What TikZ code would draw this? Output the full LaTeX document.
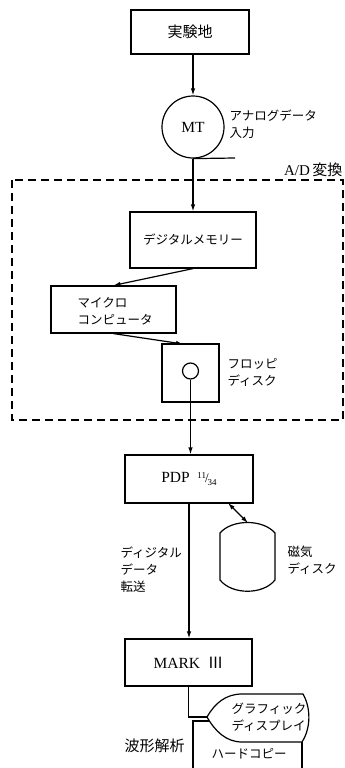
\documentclass[tikz,border=0pt]{standalone}
\usepackage{fontspec}
\setmainfont{Liberation Serif}
\newfontfamily\cjk{Noto Sans CJK JP}
\usetikzlibrary{arrows.meta}
\begin{document}
\begin{tikzpicture}[x=1pt,y=-1pt,line width=1.2pt,
  box/.style={draw,inner sep=0pt},
  arr/.style={-{Latex[length=7pt,width=4.5pt]}},
  dbl/.style={{Latex[length=7pt,width=4.5pt]}-{Latex[length=7pt,width=4.5pt]}},
  jp/.style={font=\cjk\fontsize{12.5}{17}\selectfont},
  jpbig/.style={font=\cjk\fontsize{15}{17}\selectfont},
  lat/.style={font=\fontsize{15.5}{17}\selectfont},
  lbl/.style={jp,align=left,inner sep=0pt}]
\useasboundingbox (0,0) rectangle (345,768);

% dashed A/D frame
\draw[dash pattern=on 8pt off 5pt] (12,180) rectangle (343,420);
\node[font=\fontsize{15}{16}\selectfont,anchor=east,inner sep=0pt] (ad) at (343,170) {A/D\,{\cjk 変換}};

% nodes
\node[box,minimum width=118pt,minimum height=44pt,jpbig] (exp) at (190,32) {実験地};
\node[draw,circle,minimum size=62pt,inner sep=0pt,lat] (mt) at (193,127) {MT};
\coordinate (tape) at (235,158);
\node[lbl,anchor=west] (analog) at (229,124) {アナログデータ\\入力};

\node[box,minimum width=126pt,minimum height=56pt,jp] (dm) at (193,240) {デジタルメモリー};
\node[box,minimum width=125pt,minimum height=47pt] (mc) at (113.5,309.5) {};
\node[lbl,anchor=west] (mctext) at (77,311) {マイクロ\\コンピュータ};
\node[box,minimum width=57pt,minimum height=58pt] (fd) at (190.5,373) {};
\node[draw,circle,minimum size=16pt,inner sep=0pt] (hole) at (190.5,371) {};
\node[lbl,anchor=west] (fdtext) at (227,372) {フロッピ\\ディスク};

\node[box,minimum width=128pt,minimum height=48pt,lat] (pdp) at (189,479)
  {PDP\ \ \raisebox{4pt}{\fontsize{9}{9}\selectfont 11}\kern-1pt{\fontsize{13}{13}\selectfont/}\kern-1pt\raisebox{-2.5pt}{\fontsize{9}{9}\selectfont 34}};
\coordinate (pdpr) at (228,503);
\coordinate (disktop) at (248,523);
\node[lbl,anchor=west] (disktext) at (287,560) {磁気\\ディスク};
\node[lbl,anchor=west] (xfer) at (120,570) {ディジタル\\データ\\転送};

\node[box,minimum width=127pt,minimum height=47pt,lat] (mark) at (188.5,662.5) {MARK\ \ {\cjk Ⅲ}};
\node[inner sep=0pt,jpbig,anchor=west] (wave) at (124,746) {波形解析};

% hard copy (behind display)
\draw (193,790) -- (193,721) -- (215,721);
\draw (302,742) -- (302,790);
\node[jp,inner sep=0pt] (hc) at (249,754) {ハードコピー};

% graphic display
\coordinate (gdp) at (207,717);
\draw[fill=white] (gdp) .. controls (215,703) and (226,694) .. (242,694)
  -- (303,694) .. controls (311,708) and (311,728) .. (302,742)
  -- (242,742) .. controls (226,742) and (215,731) .. (gdp) -- cycle;
\node[lbl,anchor=west] (gd) at (231,717) {グラフィック\\ディスプレイ};

% magnetic disk shape
\draw (220,533) .. controls (232,519) and (263,519) .. (275,533)
  -- (275,580) .. controls (263,595) and (232,595) .. (220,580) -- cycle;

% connectors
\draw[arr] (exp.south -| mt.north) -- (mt.north);
\draw (mt.south) -- (tape);
\draw[arr] (mt.south) -- (dm.north);
\draw[arr] (dm.south) -- (mc.north);
\draw[arr] (mc.south) -- (183,344);
\draw (hole.south) -- (fd.south -| hole.south);
\draw[arr] (fd.south) -- (fd.south |- pdp.north);
\draw[dbl] (pdpr) -- (disktop);
\draw[arr] (pdp.south) -- (pdp.south |- mark.north);
\draw (mark.south) -- (mark.south |- gdp) -- (gdp);
\end{tikzpicture}
\end{document}
